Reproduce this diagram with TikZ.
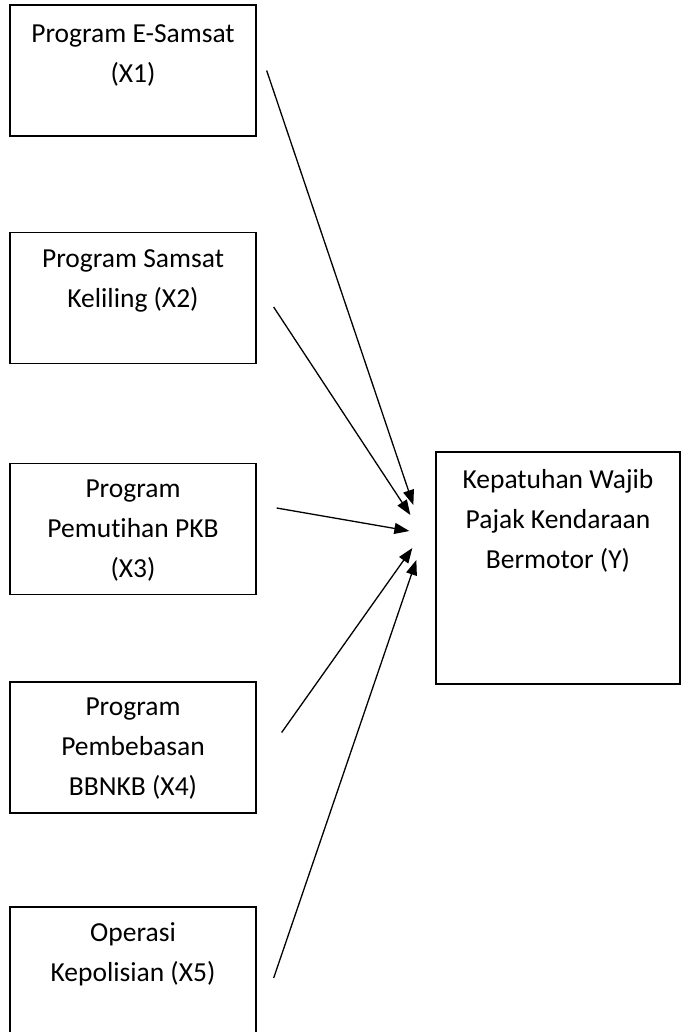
\documentclass[tikz,border=0pt]{standalone}
\usepackage{fontspec}
\setmainfont[Ligatures=NoCommon]{Carlito}
\usetikzlibrary{positioning,arrows.meta}
\tikzset{
  VarBox/.style={draw,line width=1.3pt,minimum width=246pt,minimum height=131pt,inner sep=0pt},
  VarText/.style={align=center,inner sep=0pt,font=\fontsize{27.5}{40}\selectfont},
  EdgeStyle/.style={-{Triangle[length=15pt,width=11pt]},line width=1.3pt}
}
\begin{document}
\begin{tikzpicture}[x=1pt,y=-1pt]
  \useasboundingbox (0,0) rectangle (683,1032);

  \node[VarBox] (X1) at (133,70.5) {};
  \node[VarBox] (X2) at (133,298) {};
  \node[VarBox] (X3) at (133,529) {};
  \node[VarBox] (X4) at (133,747.5) {};
  \node[VarBox] (X5) at (133,972.5) {};
  \node[VarBox,minimum width=244pt,minimum height=232pt] (Y) at (558,568) {};

  \node[VarText,below=20pt of X1.north] {Program E-Samsat\\(X1)};
  \node[VarText,below=18pt of X2.north] {Program Samsat\\Keliling (X2)};
  \node[VarText,below=17pt of X3.north] {Program\\Pemutihan PKB\\(X3)};
  \node[VarText,below=16pt of X4.north] {Program\\Pembebasan\\BBNKB (X4)};
  \node[VarText,below=16pt of X5.north] {Operasi\\Kepolisian (X5)};
  \node[VarText,below=18pt of Y.north] {Kepatuhan Wajib\\Pajak Kendaraan\\Bermotor (Y)};

  \draw[EdgeStyle] ([xshift=10pt]X1.east) -- ([shift={(-22,-63)}]Y.west);
  \draw[EdgeStyle] ([shift={(17,9)}]X2.east) -- ([shift={(-25,-53)}]Y.west);
  \draw[EdgeStyle] ([shift={(20,-21)}]X3.east) -- ([shift={(-26,-37)}]Y.west);
  \draw[EdgeStyle] ([shift={(25,-15)}]X4.east) -- ([shift={(-23,-20)}]Y.west);
  \draw[EdgeStyle] ([shift={(17,5.5)}]X5.east) -- ([shift={(-19,-8)}]Y.west);
\end{tikzpicture}
\end{document}
